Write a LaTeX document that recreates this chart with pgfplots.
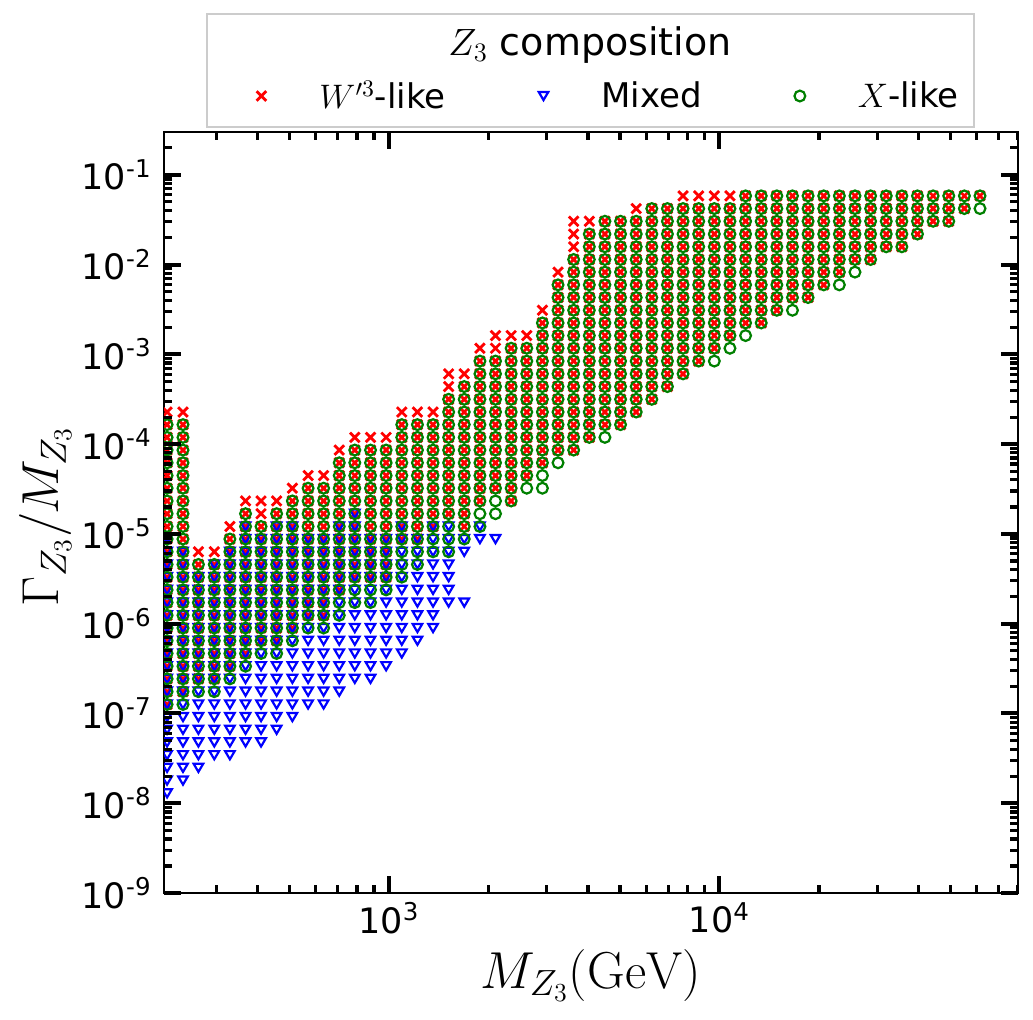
\RequirePackage{fix-cm}
\documentclass[border=0pt]{standalone}
\usepackage[no-math]{fontspec}
\setmainfont{DejaVu Sans}
\usepackage{pgfplots}
\pgfplotsset{compat=1.18}

\definecolor{mplgreen}{HTML}{008000}

% downward-pointing open triangle
\pgfdeclareplotmark{vtri}{%
  \pgfpathmoveto{\pgfpoint{0pt}{-0.85\pgfplotmarksize}}%
  \pgfpathlineto{\pgfpoint{-\pgfplotmarksize}{0.85\pgfplotmarksize}}%
  \pgfpathlineto{\pgfpoint{\pgfplotmarksize}{0.85\pgfplotmarksize}}%
  \pgfpathclose
  \pgfusepathqstroke
}

\begin{document}
\begin{tikzpicture}
\path[use as bounding box] (-82pt,-63pt) rectangle (434.5pt,446.5pt);
\begin{axis}[
  at={(0pt,0pt)}, anchor=south west,
  scale only axis, width=427pt, height=380.5pt,
  xmode=log, ymode=log,
  xmin=208.5, xmax=80040, ymin=1e-9, ymax=0.3,
  tick pos=both, tick align=inside,
  major tick length=8.5pt, minor tick length=4pt,
  tick style={black, line width=1.6pt},
  major tick style={black, line width=2pt},
  minor tick style={black, line width=1.6pt},
  axis line style={line width=1.1pt},
  tick label style={font=\fontsize{17.5}{21}\selectfont},
  xtick={1000,10000},
  xticklabels={10\textsuperscript{3},10\textsuperscript{4}},
  ytick={1e-9,1e-8,1e-7,1e-6,1e-5,1e-4,1e-3,1e-2,1e-1},
  yticklabels={10\textsuperscript{-9},10\textsuperscript{-8},10\textsuperscript{-7},10\textsuperscript{-6},10\textsuperscript{-5},10\textsuperscript{-4},10\textsuperscript{-3},10\textsuperscript{-2},10\textsuperscript{-1}},
  yticklabel style={inner sep=0pt, xshift=-6pt},
  xticklabel style={inner sep=0pt, yshift=-4.5pt},
  xlabel={$M_{Z_3}(\mathrm{GeV})$},
  ylabel={$\Gamma_{Z_3}/M_{Z_3}$},
  every axis x label/.style={at={(axis description cs:0.5,-0.108)}, anchor=center, font=\fontsize{26}{30}\selectfont},
  every axis y label/.style={at={(axis description cs:-0.139,0.495)}, anchor=center, rotate=90, font=\fontsize{26}{30}\selectfont},
  clip marker paths=true,
  legend columns=3,
  legend style={at={(axis description cs:0.0996,1.0473)}, anchor=west,
    draw=none, fill=none, inner sep=0pt,
    font=\fontsize{17}{20}\selectfont,
    nodes={inner sep=1pt},
    /tikz/every odd column/.append style={column sep=22pt},
    /tikz/every even column/.append style={column sep=42pt}},
  legend image code/.code={\path[draw=none,fill=none] (-6pt,-4pt) rectangle (6pt,4pt);\draw[#1] plot coordinates {(0pt,0pt)};},
]

% W'3-like
\addplot[only marks, mark=x, color=red, mark size=3.4pt, mark options={line width=1.4pt}] coordinates {
(213,2.28e-4)(213,1.65e-4)(213,1.19e-4)(213,8.59e-5)(213,6.20e-5)(213,4.47e-5)(213,3.23e-5)(213,2.33e-5)(213,1.68e-5)(213,1.21e-5)(213,8.77e-6)(213,6.33e-6)(213,4.57e-6)(213,3.30e-6)(213,2.38e-6)(213,1.72e-6)(213,1.24e-6)(213,8.95e-7)(213,6.46e-7)(213,4.66e-7)(213,3.36e-7)(213,2.43e-7)(213,1.75e-7)(213,1.26e-7)
(238,2.28e-4)(238,1.65e-4)(238,1.19e-4)(238,8.59e-5)(238,6.20e-5)(238,4.47e-5)(238,3.23e-5)(238,2.33e-5)(238,1.68e-5)(238,1.21e-5)(238,8.77e-6)(238,6.33e-6)(238,4.57e-6)(238,3.30e-6)(238,2.38e-6)(238,1.72e-6)(238,1.24e-6)(238,8.95e-7)(238,6.46e-7)(238,4.66e-7)(238,3.36e-7)(238,2.43e-7)(238,1.75e-7)
(265,6.33e-6)(265,4.57e-6)(265,3.30e-6)(265,2.38e-6)(265,1.72e-6)(265,1.24e-6)(265,8.95e-7)(265,6.46e-7)(265,4.66e-7)(265,3.36e-7)(265,2.43e-7)
(296,6.33e-6)(296,4.57e-6)(296,3.30e-6)(296,2.38e-6)(296,1.72e-6)(296,1.24e-6)(296,8.95e-7)(296,6.46e-7)(296,4.66e-7)(296,3.36e-7)(296,2.43e-7)
(330,1.21e-5)(330,8.77e-6)(330,6.33e-6)(330,4.57e-6)(330,3.30e-6)(330,2.38e-6)(330,1.72e-6)(330,1.24e-6)(330,8.95e-7)(330,6.46e-7)(330,4.66e-7)(330,3.36e-7)
(368,2.33e-5)(368,1.68e-5)(368,1.21e-5)(368,8.77e-6)(368,6.33e-6)(368,4.57e-6)(368,3.30e-6)(368,2.38e-6)(368,1.72e-6)(368,1.24e-6)(368,8.95e-7)(368,6.46e-7)(368,4.66e-7)
(410,2.33e-5)(410,1.68e-5)(410,1.21e-5)(410,8.77e-6)(410,6.33e-6)(410,4.57e-6)(410,3.30e-6)(410,2.38e-6)(410,1.72e-6)(410,1.24e-6)(410,8.95e-7)(410,6.46e-7)
(457,2.33e-5)(457,1.68e-5)(457,1.21e-5)(457,8.77e-6)(457,6.33e-6)(457,4.57e-6)(457,3.30e-6)(457,2.38e-6)(457,1.72e-6)(457,1.24e-6)(457,8.95e-7)(457,6.46e-7)
(510,3.23e-5)(510,2.33e-5)(510,1.68e-5)(510,1.21e-5)(510,8.77e-6)(510,6.33e-6)(510,4.57e-6)(510,3.30e-6)(510,2.38e-6)(510,1.72e-6)(510,1.24e-6)(510,8.95e-7)
(569,4.47e-5)(569,3.23e-5)(569,2.33e-5)(569,1.68e-5)(569,1.21e-5)(569,8.77e-6)(569,6.33e-6)(569,4.57e-6)(569,3.30e-6)(569,2.38e-6)(569,1.72e-6)(569,1.24e-6)
(634,4.47e-5)(634,3.23e-5)(634,2.33e-5)(634,1.68e-5)(634,1.21e-5)(634,8.77e-6)(634,6.33e-6)(634,4.57e-6)(634,3.30e-6)(634,2.38e-6)(634,1.72e-6)(634,1.24e-6)
(707,8.59e-5)(707,6.20e-5)(707,4.47e-5)(707,3.23e-5)(707,2.33e-5)(707,1.68e-5)(707,1.21e-5)(707,8.77e-6)(707,6.33e-6)(707,4.57e-6)(707,3.30e-6)(707,2.38e-6)
(788,1.19e-4)(788,8.59e-5)(788,6.20e-5)(788,4.47e-5)(788,3.23e-5)(788,2.33e-5)(788,1.68e-5)(788,1.21e-5)(788,8.77e-6)(788,6.33e-6)(788,4.57e-6)(788,3.30e-6)
(879,1.19e-4)(879,8.59e-5)(879,6.20e-5)(879,4.47e-5)(879,3.23e-5)(879,2.33e-5)(879,1.68e-5)(879,1.21e-5)(879,8.77e-6)(879,6.33e-6)(879,4.57e-6)(879,3.30e-6)
(980,1.19e-4)(980,8.59e-5)(980,6.20e-5)(980,4.47e-5)(980,3.23e-5)(980,2.33e-5)(980,1.68e-5)(980,1.21e-5)(980,8.77e-6)(980,6.33e-6)(980,4.57e-6)(980,3.30e-6)
(1093,2.28e-4)(1093,1.65e-4)(1093,1.19e-4)(1093,8.59e-5)(1093,6.20e-5)(1093,4.47e-5)(1093,3.23e-5)(1093,2.33e-5)(1093,1.68e-5)(1093,1.21e-5)(1093,8.77e-6)
(1219,2.28e-4)(1219,1.65e-4)(1219,1.19e-4)(1219,8.59e-5)(1219,6.20e-5)(1219,4.47e-5)(1219,3.23e-5)(1219,2.33e-5)(1219,1.68e-5)(1219,1.21e-5)(1219,8.77e-6)
(1359,2.28e-4)(1359,1.65e-4)(1359,1.19e-4)(1359,8.59e-5)(1359,6.20e-5)(1359,4.47e-5)(1359,3.23e-5)(1359,2.33e-5)(1359,1.68e-5)(1359,1.21e-5)
(1515,6.07e-4)(1515,4.38e-4)(1515,3.16e-4)(1515,2.28e-4)(1515,1.65e-4)(1515,1.19e-4)(1515,8.59e-5)(1515,6.20e-5)(1515,4.47e-5)(1515,3.23e-5)(1515,2.33e-5)(1515,1.68e-5)
(1689,6.07e-4)(1689,4.38e-4)(1689,3.16e-4)(1689,2.28e-4)(1689,1.65e-4)(1689,1.19e-4)(1689,8.59e-5)(1689,6.20e-5)(1689,4.47e-5)(1689,3.23e-5)(1689,2.33e-5)(1689,1.68e-5)(1689,1.21e-5)
(1884,1.17e-3)(1884,8.42e-4)(1884,6.07e-4)(1884,4.38e-4)(1884,3.16e-4)(1884,2.28e-4)(1884,1.65e-4)(1884,1.19e-4)(1884,8.59e-5)(1884,6.20e-5)(1884,4.47e-5)(1884,3.23e-5)(1884,2.33e-5)
(2100,1.62e-3)(2100,1.17e-3)(2100,8.42e-4)(2100,6.07e-4)(2100,4.38e-4)(2100,3.16e-4)(2100,2.28e-4)(2100,1.65e-4)(2100,1.19e-4)(2100,8.59e-5)(2100,6.20e-5)(2100,4.47e-5)(2100,3.23e-5)
(2342,1.62e-3)(2342,1.17e-3)(2342,8.42e-4)(2342,6.07e-4)(2342,4.38e-4)(2342,3.16e-4)(2342,2.28e-4)(2342,1.65e-4)(2342,1.19e-4)(2342,8.59e-5)(2342,6.20e-5)(2342,4.47e-5)(2342,3.23e-5)(2342,2.33e-5)
(2611,1.62e-3)(2611,1.17e-3)(2611,8.42e-4)(2611,6.07e-4)(2611,4.38e-4)(2611,3.16e-4)(2611,2.28e-4)(2611,1.65e-4)(2611,1.19e-4)(2611,8.59e-5)(2611,6.20e-5)(2611,4.47e-5)
(2912,3.10e-3)(2912,2.24e-3)(2912,1.62e-3)(2912,1.17e-3)(2912,8.42e-4)(2912,6.07e-4)(2912,4.38e-4)(2912,3.16e-4)(2912,2.28e-4)(2912,1.65e-4)(2912,1.19e-4)(2912,8.59e-5)(2912,6.20e-5)
(3247,8.25e-3)(3247,5.95e-3)(3247,4.30e-3)(3247,3.10e-3)(3247,2.24e-3)(3247,1.62e-3)(3247,1.17e-3)(3247,8.42e-4)(3247,6.07e-4)(3247,4.38e-4)(3247,3.16e-4)(3247,2.28e-4)(3247,1.65e-4)(3247,1.19e-4)(3247,8.59e-5)
(3620,3.04e-2)(3620,2.19e-2)(3620,1.58e-2)(3620,1.14e-2)(3620,8.25e-3)(3620,5.95e-3)(3620,4.30e-3)(3620,3.10e-3)(3620,2.24e-3)(3620,1.62e-3)(3620,1.17e-3)(3620,8.42e-4)(3620,6.07e-4)(3620,4.38e-4)(3620,3.16e-4)(3620,2.28e-4)(3620,1.65e-4)(3620,1.19e-4)(3620,8.59e-5)
(4037,3.04e-2)(4037,2.19e-2)(4037,1.58e-2)(4037,1.14e-2)(4037,8.25e-3)(4037,5.95e-3)(4037,4.30e-3)(4037,3.10e-3)(4037,2.24e-3)(4037,1.62e-3)(4037,1.17e-3)(4037,8.42e-4)(4037,6.07e-4)(4037,4.38e-4)(4037,3.16e-4)(4037,2.28e-4)(4037,1.65e-4)(4037,1.19e-4)
(4501,3.04e-2)(4501,2.19e-2)(4501,1.58e-2)(4501,1.14e-2)(4501,8.25e-3)(4501,5.95e-3)(4501,4.30e-3)(4501,3.10e-3)(4501,2.24e-3)(4501,1.62e-3)(4501,1.17e-3)(4501,8.42e-4)(4501,6.07e-4)(4501,4.38e-4)(4501,3.16e-4)(4501,2.28e-4)(4501,1.65e-4)
(5019,3.04e-2)(5019,2.19e-2)(5019,1.58e-2)(5019,1.14e-2)(5019,8.25e-3)(5019,5.95e-3)(5019,4.30e-3)(5019,3.10e-3)(5019,2.24e-3)(5019,1.62e-3)(5019,1.17e-3)(5019,8.42e-4)(5019,6.07e-4)(5019,4.38e-4)(5019,3.16e-4)(5019,2.28e-4)(5019,1.65e-4)
(5597,4.21e-2)(5597,3.04e-2)(5597,2.19e-2)(5597,1.58e-2)(5597,1.14e-2)(5597,8.25e-3)(5597,5.95e-3)(5597,4.30e-3)(5597,3.10e-3)(5597,2.24e-3)(5597,1.62e-3)(5597,1.17e-3)(5597,8.42e-4)(5597,6.07e-4)(5597,4.38e-4)(5597,3.16e-4)(5597,2.28e-4)
(6240,4.21e-2)(6240,3.04e-2)(6240,2.19e-2)(6240,1.58e-2)(6240,1.14e-2)(6240,8.25e-3)(6240,5.95e-3)(6240,4.30e-3)(6240,3.10e-3)(6240,2.24e-3)(6240,1.62e-3)(6240,1.17e-3)(6240,8.42e-4)(6240,6.07e-4)(6240,4.38e-4)(6240,3.16e-4)
(6958,4.21e-2)(6958,3.04e-2)(6958,2.19e-2)(6958,1.58e-2)(6958,1.14e-2)(6958,8.25e-3)(6958,5.95e-3)(6958,4.30e-3)(6958,3.10e-3)(6958,2.24e-3)(6958,1.62e-3)(6958,1.17e-3)(6958,8.42e-4)(6958,6.07e-4)(6958,4.38e-4)
(7759,5.83e-2)(7759,4.21e-2)(7759,3.04e-2)(7759,2.19e-2)(7759,1.58e-2)(7759,1.14e-2)(7759,8.25e-3)(7759,5.95e-3)(7759,4.30e-3)(7759,3.10e-3)(7759,2.24e-3)(7759,1.62e-3)(7759,1.17e-3)(7759,8.42e-4)(7759,6.07e-4)
(8651,5.83e-2)(8651,4.21e-2)(8651,3.04e-2)(8651,2.19e-2)(8651,1.58e-2)(8651,1.14e-2)(8651,8.25e-3)(8651,5.95e-3)(8651,4.30e-3)(8651,3.10e-3)(8651,2.24e-3)(8651,1.62e-3)(8651,1.17e-3)(8651,8.42e-4)
(9646,5.83e-2)(9646,4.21e-2)(9646,3.04e-2)(9646,2.19e-2)(9646,1.58e-2)(9646,1.14e-2)(9646,8.25e-3)(9646,5.95e-3)(9646,4.30e-3)(9646,3.10e-3)(9646,2.24e-3)(9646,1.62e-3)(9646,1.17e-3)
(10756,5.83e-2)(10756,4.21e-2)(10756,3.04e-2)(10756,2.19e-2)(10756,1.58e-2)(10756,1.14e-2)(10756,8.25e-3)(10756,5.95e-3)(10756,4.30e-3)(10756,3.10e-3)(10756,2.24e-3)(10756,1.62e-3)
(11994,5.83e-2)(11994,4.21e-2)(11994,3.04e-2)(11994,2.19e-2)(11994,1.58e-2)(11994,1.14e-2)(11994,8.25e-3)(11994,5.95e-3)(11994,4.30e-3)(11994,3.10e-3)(11994,2.24e-3)
(13374,5.83e-2)(13374,4.21e-2)(13374,3.04e-2)(13374,2.19e-2)(13374,1.58e-2)(13374,1.14e-2)(13374,8.25e-3)(13374,5.95e-3)(13374,4.30e-3)(13374,3.10e-3)(13374,2.24e-3)
(14912,5.83e-2)(14912,4.21e-2)(14912,3.04e-2)(14912,2.19e-2)(14912,1.58e-2)(14912,1.14e-2)(14912,8.25e-3)(14912,5.95e-3)(14912,4.30e-3)(14912,3.10e-3)
(16628,5.83e-2)(16628,4.21e-2)(16628,3.04e-2)(16628,2.19e-2)(16628,1.58e-2)(16628,1.14e-2)(16628,8.25e-3)(16628,5.95e-3)(16628,4.30e-3)
(18540,5.83e-2)(18540,4.21e-2)(18540,3.04e-2)(18540,2.19e-2)(18540,1.58e-2)(18540,1.14e-2)(18540,8.25e-3)(18540,5.95e-3)(18540,4.30e-3)
(20673,5.83e-2)(20673,4.21e-2)(20673,3.04e-2)(20673,2.19e-2)(20673,1.58e-2)(20673,1.14e-2)(20673,8.25e-3)(20673,5.95e-3)
(23052,5.83e-2)(23052,4.21e-2)(23052,3.04e-2)(23052,2.19e-2)(23052,1.58e-2)(23052,1.14e-2)(23052,8.25e-3)
(25703,5.83e-2)(25703,4.21e-2)(25703,3.04e-2)(25703,2.19e-2)(25703,1.58e-2)(25703,1.14e-2)
(28660,5.83e-2)(28660,4.21e-2)(28660,3.04e-2)(28660,2.19e-2)(28660,1.58e-2)(28660,1.14e-2)
(31958,5.83e-2)(31958,4.21e-2)(31958,3.04e-2)(31958,2.19e-2)(31958,1.58e-2)
(35634,5.83e-2)(35634,4.21e-2)(35634,3.04e-2)(35634,2.19e-2)(35634,1.58e-2)
(39733,5.83e-2)(39733,4.21e-2)(39733,3.04e-2)(39733,2.19e-2)
(44304,5.83e-2)(44304,4.21e-2)(44304,3.04e-2)
(49401,5.83e-2)(49401,4.21e-2)(49401,3.04e-2)
(55084,5.83e-2)(55084,4.21e-2)
(61420,5.83e-2)
};
\addlegendentry{$W'^3$-like}

% Mixed
\addplot[only marks, mark=vtri, color=blue, mark size=2.4pt, mark options={line width=1.1pt}] coordinates {
(213,8.77e-6)(213,6.33e-6)(213,4.57e-6)(213,3.30e-6)(213,2.38e-6)(213,1.72e-6)(213,1.24e-6)(213,8.95e-7)(213,6.46e-7)(213,4.66e-7)(213,3.36e-7)(213,2.43e-7)(213,1.75e-7)(213,1.26e-7)(213,9.13e-8)(213,6.59e-8)(213,4.76e-8)(213,3.43e-8)(213,2.48e-8)(213,1.79e-8)(213,1.29e-8)
(238,6.33e-6)(238,4.57e-6)(238,3.30e-6)(238,2.38e-6)(238,1.72e-6)(238,1.24e-6)(238,8.95e-7)(238,6.46e-7)(238,4.66e-7)(238,3.36e-7)(238,2.43e-7)(238,1.75e-7)(238,1.26e-7)(238,9.13e-8)(238,6.59e-8)(238,4.76e-8)(238,3.43e-8)(238,2.48e-8)(238,1.79e-8)
(265,3.30e-6)(265,2.38e-6)(265,1.72e-6)(265,1.24e-6)(265,8.95e-7)(265,6.46e-7)(265,4.66e-7)(265,3.36e-7)(265,2.43e-7)(265,1.75e-7)(265,1.26e-7)(265,9.13e-8)(265,6.59e-8)(265,4.76e-8)(265,3.43e-8)(265,2.48e-8)
(296,4.57e-6)(296,3.30e-6)(296,2.38e-6)(296,1.72e-6)(296,1.24e-6)(296,8.95e-7)(296,6.46e-7)(296,4.66e-7)(296,3.36e-7)(296,2.43e-7)(296,1.75e-7)(296,1.26e-7)(296,9.13e-8)(296,6.59e-8)(296,4.76e-8)(296,3.43e-8)
(330,6.33e-6)(330,4.57e-6)(330,3.30e-6)(330,2.38e-6)(330,1.72e-6)(330,1.24e-6)(330,8.95e-7)(330,6.46e-7)(330,4.66e-7)(330,3.36e-7)(330,2.43e-7)(330,1.75e-7)(330,1.26e-7)(330,9.13e-8)(330,6.59e-8)(330,4.76e-8)(330,3.43e-8)
(368,1.21e-5)(368,8.77e-6)(368,6.33e-6)(368,4.57e-6)(368,3.30e-6)(368,2.38e-6)(368,1.72e-6)(368,1.24e-6)(368,8.95e-7)(368,6.46e-7)(368,4.66e-7)(368,3.36e-7)(368,2.43e-7)(368,1.75e-7)(368,1.26e-7)(368,9.13e-8)(368,6.59e-8)(368,4.76e-8)
(410,8.77e-6)(410,6.33e-6)(410,4.57e-6)(410,3.30e-6)(410,2.38e-6)(410,1.72e-6)(410,1.24e-6)(410,8.95e-7)(410,6.46e-7)(410,4.66e-7)(410,3.36e-7)(410,2.43e-7)(410,1.75e-7)(410,1.26e-7)(410,9.13e-8)(410,6.59e-8)(410,4.76e-8)
(457,1.21e-5)(457,8.77e-6)(457,6.33e-6)(457,4.57e-6)(457,3.30e-6)(457,2.38e-6)(457,1.72e-6)(457,1.24e-6)(457,8.95e-7)(457,6.46e-7)(457,4.66e-7)(457,3.36e-7)(457,2.43e-7)(457,1.75e-7)(457,1.26e-7)(457,9.13e-8)(457,6.59e-8)
(510,1.21e-5)(510,8.77e-6)(510,6.33e-6)(510,4.57e-6)(510,3.30e-6)(510,2.38e-6)(510,1.72e-6)(510,1.24e-6)(510,8.95e-7)(510,6.46e-7)(510,4.66e-7)(510,3.36e-7)(510,2.43e-7)(510,1.75e-7)(510,1.26e-7)(510,9.13e-8)
(569,8.77e-6)(569,6.33e-6)(569,4.57e-6)(569,3.30e-6)(569,2.38e-6)(569,1.72e-6)(569,1.24e-6)(569,8.95e-7)(569,6.46e-7)(569,4.66e-7)(569,3.36e-7)(569,2.43e-7)(569,1.75e-7)(569,1.26e-7)
(634,8.77e-6)(634,6.33e-6)(634,4.57e-6)(634,3.30e-6)(634,2.38e-6)(634,1.72e-6)(634,1.24e-6)(634,8.95e-7)(634,6.46e-7)(634,4.66e-7)(634,3.36e-7)(634,2.43e-7)(634,1.75e-7)(634,1.26e-7)
(707,1.21e-5)(707,8.77e-6)(707,6.33e-6)(707,4.57e-6)(707,3.30e-6)(707,2.38e-6)(707,1.72e-6)(707,1.24e-6)(707,8.95e-7)(707,6.46e-7)(707,4.66e-7)(707,3.36e-7)(707,2.43e-7)(707,1.75e-7)
(788,1.68e-5)(788,1.21e-5)(788,8.77e-6)(788,6.33e-6)(788,4.57e-6)(788,3.30e-6)(788,2.38e-6)(788,1.72e-6)(788,1.24e-6)(788,8.95e-7)(788,6.46e-7)(788,4.66e-7)(788,3.36e-7)(788,2.43e-7)
(879,8.77e-6)(879,6.33e-6)(879,4.57e-6)(879,3.30e-6)(879,2.38e-6)(879,1.72e-6)(879,1.24e-6)(879,8.95e-7)(879,6.46e-7)(879,4.66e-7)(879,3.36e-7)(879,2.43e-7)
(980,8.77e-6)(980,6.33e-6)(980,4.57e-6)(980,3.30e-6)(980,2.38e-6)(980,1.72e-6)(980,1.24e-6)(980,8.95e-7)(980,6.46e-7)(980,4.66e-7)(980,3.36e-7)
(1093,1.21e-5)(1093,8.77e-6)(1093,6.33e-6)(1093,4.57e-6)(1093,3.30e-6)(1093,2.38e-6)(1093,1.72e-6)(1093,1.24e-6)(1093,8.95e-7)(1093,6.46e-7)(1093,4.66e-7)
(1219,8.77e-6)(1219,6.33e-6)(1219,4.57e-6)(1219,3.30e-6)(1219,2.38e-6)(1219,1.72e-6)(1219,1.24e-6)(1219,8.95e-7)(1219,6.46e-7)
(1359,1.21e-5)(1359,8.77e-6)(1359,6.33e-6)(1359,4.57e-6)(1359,3.30e-6)(1359,2.38e-6)(1359,1.72e-6)(1359,1.24e-6)(1359,8.95e-7)
(1515,1.21e-5)(1515,8.77e-6)(1515,6.33e-6)(1515,4.57e-6)(1515,3.30e-6)(1515,2.38e-6)(1515,1.72e-6)
(1689,8.77e-6)(1689,6.33e-6)(1689,1.72e-6)
(1884,1.21e-5)(1884,8.77e-6)
(2100,8.77e-6)
};
\addlegendentry{Mixed}

% X-like
\addplot[only marks, mark=o, color=mplgreen, mark size=2.7pt, mark options={line width=1.1pt}] coordinates {
(213,1.65e-4)(213,1.19e-4)(213,8.59e-5)(213,6.20e-5)(213,4.47e-5)(213,3.23e-5)(213,2.33e-5)(213,1.68e-5)(213,1.21e-5)(213,8.77e-6)(213,6.33e-6)(213,4.57e-6)(213,3.30e-6)(213,2.38e-6)(213,1.72e-6)(213,1.24e-6)(213,8.95e-7)(213,6.46e-7)(213,4.66e-7)(213,3.36e-7)(213,2.43e-7)(213,1.75e-7)(213,1.26e-7)
(238,1.65e-4)(238,1.19e-4)(238,8.59e-5)(238,6.20e-5)(238,4.47e-5)(238,3.23e-5)(238,2.33e-5)(238,1.68e-5)(238,1.21e-5)(238,8.77e-6)(238,6.33e-6)(238,4.57e-6)(238,3.30e-6)(238,2.38e-6)(238,1.72e-6)(238,1.24e-6)(238,8.95e-7)(238,6.46e-7)(238,4.66e-7)(238,3.36e-7)(238,2.43e-7)(238,1.75e-7)(238,1.26e-7)
(265,4.57e-6)(265,3.30e-6)(265,2.38e-6)(265,1.72e-6)(265,1.24e-6)(265,8.95e-7)(265,6.46e-7)(265,4.66e-7)(265,3.36e-7)(265,2.43e-7)(265,1.75e-7)
(296,4.57e-6)(296,3.30e-6)(296,2.38e-6)(296,1.72e-6)(296,1.24e-6)(296,8.95e-7)(296,6.46e-7)(296,4.66e-7)(296,3.36e-7)(296,2.43e-7)(296,1.75e-7)
(330,8.77e-6)(330,6.33e-6)(330,4.57e-6)(330,3.30e-6)(330,2.38e-6)(330,1.72e-6)(330,1.24e-6)(330,8.95e-7)(330,6.46e-7)(330,4.66e-7)(330,3.36e-7)(330,2.43e-7)
(368,1.68e-5)(368,1.21e-5)(368,8.77e-6)(368,6.33e-6)(368,4.57e-6)(368,3.30e-6)(368,2.38e-6)(368,1.72e-6)(368,1.24e-6)(368,8.95e-7)(368,6.46e-7)(368,4.66e-7)(368,3.36e-7)
(410,1.21e-5)(410,8.77e-6)(410,6.33e-6)(410,4.57e-6)(410,3.30e-6)(410,2.38e-6)(410,1.72e-6)(410,1.24e-6)(410,8.95e-7)(410,6.46e-7)(410,4.66e-7)
(457,1.68e-5)(457,1.21e-5)(457,8.77e-6)(457,6.33e-6)(457,4.57e-6)(457,3.30e-6)(457,2.38e-6)(457,1.72e-6)(457,1.24e-6)(457,8.95e-7)(457,6.46e-7)(457,4.66e-7)
(510,2.33e-5)(510,1.68e-5)(510,1.21e-5)(510,8.77e-6)(510,6.33e-6)(510,4.57e-6)(510,3.30e-6)(510,2.38e-6)(510,1.72e-6)(510,1.24e-6)(510,8.95e-7)(510,6.46e-7)
(569,3.23e-5)(569,2.33e-5)(569,1.68e-5)(569,1.21e-5)(569,8.77e-6)(569,6.33e-6)(569,4.57e-6)(569,3.30e-6)(569,2.38e-6)(569,1.72e-6)(569,1.24e-6)(569,8.95e-7)
(634,3.23e-5)(634,2.33e-5)(634,1.68e-5)(634,1.21e-5)(634,8.77e-6)(634,6.33e-6)(634,4.57e-6)(634,3.30e-6)(634,2.38e-6)(634,1.72e-6)(634,1.24e-6)(634,8.95e-7)
(707,6.20e-5)(707,4.47e-5)(707,3.23e-5)(707,2.33e-5)(707,1.68e-5)(707,1.21e-5)(707,8.77e-6)(707,6.33e-6)(707,4.57e-6)(707,3.30e-6)(707,2.38e-6)(707,1.72e-6)(707,1.24e-6)
(788,8.59e-5)(788,6.20e-5)(788,4.47e-5)(788,3.23e-5)(788,2.33e-5)(788,1.68e-5)(788,1.21e-5)(788,8.77e-6)(788,6.33e-6)(788,4.57e-6)(788,3.30e-6)(788,2.38e-6)(788,1.72e-6)
(879,8.59e-5)(879,6.20e-5)(879,4.47e-5)(879,3.23e-5)(879,2.33e-5)(879,1.68e-5)(879,1.21e-5)(879,8.77e-6)(879,6.33e-6)(879,4.57e-6)(879,3.30e-6)(879,2.38e-6)(879,1.72e-6)
(980,8.59e-5)(980,6.20e-5)(980,4.47e-5)(980,3.23e-5)(980,2.33e-5)(980,1.68e-5)(980,1.21e-5)(980,8.77e-6)(980,6.33e-6)(980,4.57e-6)(980,3.30e-6)(980,2.38e-6)
(1093,1.65e-4)(1093,1.19e-4)(1093,8.59e-5)(1093,6.20e-5)(1093,4.47e-5)(1093,3.23e-5)(1093,2.33e-5)(1093,1.68e-5)(1093,1.21e-5)(1093,8.77e-6)(1093,6.33e-6)(1093,4.57e-6)(1093,3.30e-6)
(1219,1.65e-4)(1219,1.19e-4)(1219,8.59e-5)(1219,6.20e-5)(1219,4.47e-5)(1219,3.23e-5)(1219,2.33e-5)(1219,1.68e-5)(1219,1.21e-5)(1219,8.77e-6)(1219,6.33e-6)(1219,4.57e-6)
(1359,1.65e-4)(1359,1.19e-4)(1359,8.59e-5)(1359,6.20e-5)(1359,4.47e-5)(1359,3.23e-5)(1359,2.33e-5)(1359,1.68e-5)(1359,1.21e-5)(1359,8.77e-6)(1359,6.33e-6)
(1515,3.16e-4)(1515,2.28e-4)(1515,1.65e-4)(1515,1.19e-4)(1515,8.59e-5)(1515,6.20e-5)(1515,4.47e-5)(1515,3.23e-5)(1515,2.33e-5)(1515,1.68e-5)(1515,1.21e-5)(1515,8.77e-6)(1515,6.33e-6)
(1689,4.38e-4)(1689,3.16e-4)(1689,2.28e-4)(1689,1.65e-4)(1689,1.19e-4)(1689,8.59e-5)(1689,6.20e-5)(1689,4.47e-5)(1689,3.23e-5)(1689,2.33e-5)(1689,1.68e-5)(1689,1.21e-5)(1689,8.77e-6)
(1884,8.42e-4)(1884,6.07e-4)(1884,4.38e-4)(1884,3.16e-4)(1884,2.28e-4)(1884,1.65e-4)(1884,1.19e-4)(1884,8.59e-5)(1884,6.20e-5)(1884,4.47e-5)(1884,3.23e-5)(1884,2.33e-5)(1884,1.68e-5)(1884,1.21e-5)
(2100,8.42e-4)(2100,6.07e-4)(2100,4.38e-4)(2100,3.16e-4)(2100,2.28e-4)(2100,1.65e-4)(2100,1.19e-4)(2100,8.59e-5)(2100,6.20e-5)(2100,4.47e-5)(2100,3.23e-5)(2100,2.33e-5)(2100,1.68e-5)
(2342,1.17e-3)(2342,8.42e-4)(2342,6.07e-4)(2342,4.38e-4)(2342,3.16e-4)(2342,2.28e-4)(2342,1.65e-4)(2342,1.19e-4)(2342,8.59e-5)(2342,6.20e-5)(2342,4.47e-5)(2342,3.23e-5)(2342,2.33e-5)
(2611,1.17e-3)(2611,8.42e-4)(2611,6.07e-4)(2611,4.38e-4)(2611,3.16e-4)(2611,2.28e-4)(2611,1.65e-4)(2611,1.19e-4)(2611,8.59e-5)(2611,6.20e-5)(2611,4.47e-5)(2611,3.23e-5)
(2912,2.24e-3)(2912,1.62e-3)(2912,1.17e-3)(2912,8.42e-4)(2912,6.07e-4)(2912,4.38e-4)(2912,3.16e-4)(2912,2.28e-4)(2912,1.65e-4)(2912,1.19e-4)(2912,8.59e-5)(2912,6.20e-5)(2912,4.47e-5)(2912,3.23e-5)
(3247,5.95e-3)(3247,4.30e-3)(3247,3.10e-3)(3247,2.24e-3)(3247,1.62e-3)(3247,1.17e-3)(3247,8.42e-4)(3247,6.07e-4)(3247,4.38e-4)(3247,3.16e-4)(3247,2.28e-4)(3247,1.65e-4)(3247,1.19e-4)(3247,8.59e-5)(3247,6.20e-5)
(3620,1.14e-2)(3620,8.25e-3)(3620,5.95e-3)(3620,4.30e-3)(3620,3.10e-3)(3620,2.24e-3)(3620,1.62e-3)(3620,1.17e-3)(3620,8.42e-4)(3620,6.07e-4)(3620,4.38e-4)(3620,3.16e-4)(3620,2.28e-4)(3620,1.65e-4)(3620,1.19e-4)(3620,8.59e-5)
(4037,2.19e-2)(4037,1.58e-2)(4037,1.14e-2)(4037,8.25e-3)(4037,5.95e-3)(4037,4.30e-3)(4037,3.10e-3)(4037,2.24e-3)(4037,1.62e-3)(4037,1.17e-3)(4037,8.42e-4)(4037,6.07e-4)(4037,4.38e-4)(4037,3.16e-4)(4037,2.28e-4)(4037,1.65e-4)(4037,1.19e-4)
(4501,3.04e-2)(4501,2.19e-2)(4501,1.58e-2)(4501,1.14e-2)(4501,8.25e-3)(4501,5.95e-3)(4501,4.30e-3)(4501,3.10e-3)(4501,2.24e-3)(4501,1.62e-3)(4501,1.17e-3)(4501,8.42e-4)(4501,6.07e-4)(4501,4.38e-4)(4501,3.16e-4)(4501,2.28e-4)(4501,1.65e-4)(4501,1.19e-4)
(5019,3.04e-2)(5019,2.19e-2)(5019,1.58e-2)(5019,1.14e-2)(5019,8.25e-3)(5019,5.95e-3)(5019,4.30e-3)(5019,3.10e-3)(5019,2.24e-3)(5019,1.62e-3)(5019,1.17e-3)(5019,8.42e-4)(5019,6.07e-4)(5019,4.38e-4)(5019,3.16e-4)(5019,2.28e-4)(5019,1.65e-4)
(5597,3.04e-2)(5597,2.19e-2)(5597,1.58e-2)(5597,1.14e-2)(5597,8.25e-3)(5597,5.95e-3)(5597,4.30e-3)(5597,3.10e-3)(5597,2.24e-3)(5597,1.62e-3)(5597,1.17e-3)(5597,8.42e-4)(5597,6.07e-4)(5597,4.38e-4)(5597,3.16e-4)(5597,2.28e-4)
(6240,4.21e-2)(6240,3.04e-2)(6240,2.19e-2)(6240,1.58e-2)(6240,1.14e-2)(6240,8.25e-3)(6240,5.95e-3)(6240,4.30e-3)(6240,3.10e-3)(6240,2.24e-3)(6240,1.62e-3)(6240,1.17e-3)(6240,8.42e-4)(6240,6.07e-4)(6240,4.38e-4)(6240,3.16e-4)
(6958,4.21e-2)(6958,3.04e-2)(6958,2.19e-2)(6958,1.58e-2)(6958,1.14e-2)(6958,8.25e-3)(6958,5.95e-3)(6958,4.30e-3)(6958,3.10e-3)(6958,2.24e-3)(6958,1.62e-3)(6958,1.17e-3)(6958,8.42e-4)(6958,6.07e-4)(6958,4.38e-4)
(7759,4.21e-2)(7759,3.04e-2)(7759,2.19e-2)(7759,1.58e-2)(7759,1.14e-2)(7759,8.25e-3)(7759,5.95e-3)(7759,4.30e-3)(7759,3.10e-3)(7759,2.24e-3)(7759,1.62e-3)(7759,1.17e-3)(7759,8.42e-4)(7759,6.07e-4)
(8651,4.21e-2)(8651,3.04e-2)(8651,2.19e-2)(8651,1.58e-2)(8651,1.14e-2)(8651,8.25e-3)(8651,5.95e-3)(8651,4.30e-3)(8651,3.10e-3)(8651,2.24e-3)(8651,1.62e-3)(8651,1.17e-3)(8651,8.42e-4)
(9646,4.21e-2)(9646,3.04e-2)(9646,2.19e-2)(9646,1.58e-2)(9646,1.14e-2)(9646,8.25e-3)(9646,5.95e-3)(9646,4.30e-3)(9646,3.10e-3)(9646,2.24e-3)(9646,1.62e-3)(9646,1.17e-3)(9646,8.42e-4)
(10756,4.21e-2)(10756,3.04e-2)(10756,2.19e-2)(10756,1.58e-2)(10756,1.14e-2)(10756,8.25e-3)(10756,5.95e-3)(10756,4.30e-3)(10756,3.10e-3)(10756,2.24e-3)(10756,1.62e-3)(10756,1.17e-3)
(11994,5.83e-2)(11994,4.21e-2)(11994,3.04e-2)(11994,2.19e-2)(11994,1.58e-2)(11994,1.14e-2)(11994,8.25e-3)(11994,5.95e-3)(11994,4.30e-3)(11994,3.10e-3)(11994,2.24e-3)(11994,1.62e-3)
(13374,5.83e-2)(13374,4.21e-2)(13374,3.04e-2)(13374,2.19e-2)(13374,1.58e-2)(13374,1.14e-2)(13374,8.25e-3)(13374,5.95e-3)(13374,4.30e-3)(13374,3.10e-3)(13374,2.24e-3)
(14912,5.83e-2)(14912,4.21e-2)(14912,3.04e-2)(14912,2.19e-2)(14912,1.58e-2)(14912,1.14e-2)(14912,8.25e-3)(14912,5.95e-3)(14912,4.30e-3)(14912,3.10e-3)
(16628,5.83e-2)(16628,4.21e-2)(16628,3.04e-2)(16628,2.19e-2)(16628,1.58e-2)(16628,1.14e-2)(16628,8.25e-3)(16628,5.95e-3)(16628,4.30e-3)(16628,3.10e-3)
(18540,5.83e-2)(18540,4.21e-2)(18540,3.04e-2)(18540,2.19e-2)(18540,1.58e-2)(18540,1.14e-2)(18540,8.25e-3)(18540,5.95e-3)(18540,4.30e-3)
(20673,5.83e-2)(20673,4.21e-2)(20673,3.04e-2)(20673,2.19e-2)(20673,1.58e-2)(20673,1.14e-2)(20673,8.25e-3)(20673,5.95e-3)
(23052,5.83e-2)(23052,4.21e-2)(23052,3.04e-2)(23052,2.19e-2)(23052,1.58e-2)(23052,1.14e-2)(23052,8.25e-3)(23052,5.95e-3)
(25703,5.83e-2)(25703,4.21e-2)(25703,3.04e-2)(25703,2.19e-2)(25703,1.58e-2)(25703,1.14e-2)(25703,8.25e-3)
(28660,5.83e-2)(28660,4.21e-2)(28660,3.04e-2)(28660,2.19e-2)(28660,1.58e-2)(28660,1.14e-2)
(31958,5.83e-2)(31958,4.21e-2)(31958,3.04e-2)(31958,2.19e-2)(31958,1.58e-2)
(35634,5.83e-2)(35634,4.21e-2)(35634,3.04e-2)(35634,2.19e-2)(35634,1.58e-2)
(39733,5.83e-2)(39733,4.21e-2)(39733,3.04e-2)(39733,2.19e-2)
(44304,5.83e-2)(44304,4.21e-2)(44304,3.04e-2)
(49401,5.83e-2)(49401,4.21e-2)(49401,3.04e-2)
(55084,5.83e-2)(55084,4.21e-2)
(61420,5.83e-2)(61420,4.21e-2)
};
\addlegendentry{$X$-like}

% tick marks on all four sides, drawn over the markers
\pgfplotsinvokeforeach{300,400,500,600,700,800,900,2000,3000,4000,5000,6000,7000,8000,9000,20000,30000,40000,50000,60000,70000,80000}{
  \draw[black, line width=1.6pt] (axis cs:#1,1e-9) -- ++(0pt,4pt);
  \draw[black, line width=1.6pt] (axis cs:#1,0.3) -- ++(0pt,-4pt);
}
\pgfplotsinvokeforeach{1000,10000}{
  \draw[black, line width=2pt] (axis cs:#1,1e-9) -- ++(0pt,8.5pt);
  \draw[black, line width=2pt] (axis cs:#1,0.3) -- ++(0pt,-8.5pt);
}
\pgfplotsinvokeforeach{2e-9,3e-9,4e-9,5e-9,6e-9,7e-9,8e-9,9e-9,2e-8,3e-8,4e-8,5e-8,6e-8,7e-8,8e-8,9e-8,2e-7,3e-7,4e-7,5e-7,6e-7,7e-7,8e-7,9e-7,2e-6,3e-6,4e-6,5e-6,6e-6,7e-6,8e-6,9e-6,2e-5,3e-5,4e-5,5e-5,6e-5,7e-5,8e-5,9e-5,2e-4,3e-4,4e-4,5e-4,6e-4,7e-4,8e-4,9e-4,2e-3,3e-3,4e-3,5e-3,6e-3,7e-3,8e-3,9e-3,2e-2,3e-2,4e-2,5e-2,6e-2,7e-2,8e-2,9e-2,2e-1}{
  \draw[black, line width=1.6pt] (axis cs:208.5,#1) -- ++(4pt,0pt);
  \draw[black, line width=1.6pt] (axis cs:80040,#1) -- ++(-4pt,0pt);
}
\pgfplotsinvokeforeach{1e-9,1e-8,1e-7,1e-6,1e-5,1e-4,1e-3,1e-2,1e-1}{
  \draw[black, line width=2pt] (axis cs:208.5,#1) -- ++(8.5pt,0pt);
  \draw[black, line width=2pt] (axis cs:80040,#1) -- ++(-8.5pt,0pt);
}
\end{axis}

% legend frame and title
\draw[black!20, line width=1pt] (21.5pt,383pt) rectangle (405pt,439.5pt);
\node[font=\fontsize{19}{22}\selectfont] at (213pt,424pt) {$Z_3$ composition};
\end{tikzpicture}
\end{document}
